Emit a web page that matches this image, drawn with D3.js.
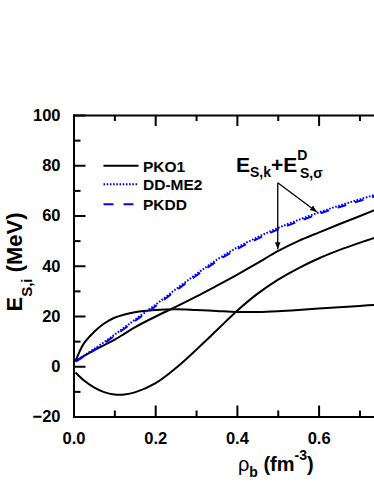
<!DOCTYPE html>
<html>
<head>
<meta charset="utf-8">
<script src="https://cdn.jsdelivr.net/npm/d3@7"></script>
<style>
  body { margin: 0; background: #fff; }
  svg { display: block; font-family: "Liberation Sans", Arial, sans-serif; font-weight: bold; }
</style>
</head>
<body>
<div id="vis"></div>
<script>
// density grid (fm^-3)
const rho = [0.005, 0.025, 0.05, 0.075, 0.1, 0.125, 0.15, 0.2, 0.25, 0.3, 0.35, 0.4, 0.45, 0.5, 0.55, 0.6, 0.65, 0.7, 0.75];

// PKO1 curves (MeV)
const pko1Sum   = [2, 4, 6.3, 8.4, 10.5, 13, 15.5, 19.7, 23.6, 27.7, 32, 36.4, 41, 45.8, 49.8, 53.2, 56.5, 59.7, 63];
const pko1Lower = [-2.5, -5.6, -8.4, -10.3, -11.2, -11.2, -10.4, -6.8, -0.8, 6.5, 14.2, 22, 28.8, 34.4, 39, 42.9, 46.2, 49.1, 51.8];
const pko1Flat  = [2, 9, 13.6, 17, 19.3, 20.6, 21.5, 22.4, 22.7, 22.4, 22, 21.6, 21.6, 21.9, 22.4, 23, 23.5, 24, 24.6];
// DD-ME2 and PKDD (nearly on top of each other)
const ddme2 = [2, 4.2, 6.8, 9.6, 12.5, 15.5, 18.5, 24.4, 30.6, 36.6, 42.3, 47.2, 51.3, 55, 58.2, 61.2, 63.9, 66.4, 68.8];
const pkdd  = [1.8, 3.9, 6.4, 9.2, 12, 15, 18, 23.8, 30, 36, 41.7, 46.6, 50.7, 54.4, 57.6, 60.6, 63.3, 65.8, 68.2];

const xMajor = [0, 0.2, 0.4, 0.6, 0.8, 1.0];
const xMinor = [0.1, 0.3, 0.5, 0.7, 0.9];
const yMajor = [-20, 0, 20, 40, 60, 80, 100];
const yMinor = [-10, 10, 30, 50, 70, 90];

const legendNames = ["PKO1", "DD-ME2", "PKDD"];

const W = 374, H = 484;
const svg = d3.select("#vis").append("svg")
  .attr("width", W)
  .attr("height", H);

const x = d3.scaleLinear().domain([0, 1.0]).range([73.5, 482]);
const y = d3.scaleLinear().domain([-20, 100]).range([416.5, 115]);

svg.append("defs").append("clipPath").attr("id", "plotclip")
  .append("rect")
  .attr("x", x(0)).attr("y", y(100))
  .attr("width", x(1) - x(0)).attr("height", y(-20) - y(100));

// curves
const line = d3.line()
  .x(d => x(d[0]))
  .y(d => y(d[1]))
  .curve(d3.curveCatmullRom.alpha(0.5));

const plot = svg.append("g").attr("clip-path", "url(#plotclip)");

const series = [
  { vals: pko1Flat,  color: "#000", dash: null },
  { vals: pko1Lower, color: "#000", dash: null },
  { vals: pko1Sum,   color: "#000", dash: null },
  { vals: pkdd,      color: "#0000ff", dash: "9,9" },
  { vals: ddme2,     color: "#0000ff", dash: "1.6,1.6" }
];

series.forEach(s => {
  plot.append("path")
    .datum(rho.map((r, i) => [r, s.vals[i]]))
    .attr("d", line)
    .attr("fill", "none")
    .attr("stroke", s.color)
    .attr("stroke-width", 2)
    .attr("stroke-dasharray", s.dash);
});

// axes, ticks pointing inward
function styleAxis(g) {
  g.selectAll("path, line").attr("stroke", "#000").attr("stroke-width", 2);
  g.selectAll("text").attr("fill", "#000").style("font-size", "16.5px").style("font-weight", "bold");
}

// labels only where the page shows them (the frame runs past the right edge)
const xFmt = d => d <= 0.7 ? d3.format(".1f")(d) : "";

svg.append("g")
  .attr("transform", `translate(0,${y(-20)})`)
  .call(d3.axisBottom(x).tickValues(xMajor).tickSize(-11).tickSizeOuter(0).tickPadding(16).tickFormat(xFmt))
  .call(styleAxis);
svg.append("g")
  .attr("transform", `translate(0,${y(-20)})`)
  .call(d3.axisBottom(x).tickValues(xMinor).tickSize(-6).tickFormat(""))
  .call(g => g.select(".domain").remove())
  .call(styleAxis);

svg.append("g")
  .attr("transform", `translate(0,${y(100)})`)
  .call(d3.axisTop(x).tickValues(xMajor).tickSize(-11).tickSizeOuter(0).tickFormat(""))
  .call(styleAxis);
svg.append("g")
  .attr("transform", `translate(0,${y(100)})`)
  .call(d3.axisTop(x).tickValues(xMinor).tickSize(-6).tickFormat(""))
  .call(g => g.select(".domain").remove())
  .call(styleAxis);

svg.append("g")
  .attr("transform", `translate(${x(0)},0)`)
  .call(d3.axisLeft(y).tickValues(yMajor).tickSize(-12).tickSizeOuter(0).tickPadding(13))
  .call(styleAxis);
svg.append("g")
  .attr("transform", `translate(${x(0)},0)`)
  .call(d3.axisLeft(y).tickValues(yMinor).tickSize(-7).tickFormat(""))
  .call(g => g.select(".domain").remove())
  .call(styleAxis);

svg.append("g")
  .attr("transform", `translate(${x(1)},0)`)
  .call(d3.axisRight(y).tickValues(yMajor).tickSize(-12).tickSizeOuter(0).tickFormat(""))
  .call(styleAxis);

// square off the frame corners
svg.selectAll(".domain").attr("stroke-linecap", "square");

// legend
const legend = svg.append("g").attr("transform", "translate(103.5,165.7)");
const legY = [0, 18.6, 38.6];
const legStyles = [
  { color: "#000", dash: null },
  { color: "#0000ff", dash: "1.6,1.6" },
  { color: "#0000ff", dash: "10,10" }
];
legendNames.forEach((name, i) => {
  legend.append("line")
    .attr("x1", 0).attr("x2", 35)
    .attr("y1", legY[i]).attr("y2", legY[i])
    .attr("stroke", legStyles[i].color)
    .attr("stroke-width", 2)
    .attr("stroke-dasharray", legStyles[i].dash);
  legend.append("text")
    .attr("x", 39.5).attr("y", legY[i] + 6.2)
    .style("font-size", "15.5px")
    .text(name);
});

// annotation with arrows
const arrowFrom = [0.5, 73];
const arrowTo = [[0.5, 46.6], [0.596, 61.4]];
svg.append("defs").append("marker")
  .attr("id", "head")
  .attr("viewBox", "0 0 10 10")
  .attr("refX", 10).attr("refY", 5)
  .attr("markerWidth", 7).attr("markerHeight", 7)
  .attr("markerUnits", "userSpaceOnUse")
  .attr("orient", "auto")
  .append("path")
  .attr("d", "M0,1 L10,5 L0,9 Z")
  .attr("fill", "#000");

arrowTo.forEach(t => {
  svg.append("line")
    .attr("x1", x(arrowFrom[0])).attr("y1", y(arrowFrom[1]))
    .attr("x2", x(t[0])).attr("y2", y(t[1]))
    .attr("stroke", "#000")
    .attr("stroke-width", 1.3)
    .attr("marker-end", "url(#head)");
});

const ann = svg.append("text")
  .attr("x", 236).attr("y", 171.7)
  .style("font-size", "21px");
ann.append("tspan").text("E");
ann.append("tspan").attr("dy", 5).style("font-size", "14px").text("S,k");
ann.append("tspan").attr("dy", -5).text("+E");
ann.append("tspan").attr("dy", -12).style("font-size", "14px").text("D");
ann.append("tspan").attr("x", 300).attr("dy", 18.5).style("font-size", "14px").text("S,σ");

// axis titles
const xt = svg.append("text")
  .attr("x", x(0.5) - 2).attr("y", 471)
  .attr("text-anchor", "middle")
  .style("font-size", "20px");
xt.append("tspan").style("font-weight", "normal").text("ρ");
xt.append("tspan").attr("dy", 6).style("font-size", "14px").text("b");
xt.append("tspan").attr("dy", -6).text(" (fm");
xt.append("tspan").attr("dy", -11).style("font-size", "14px").text("-3");
xt.append("tspan").attr("dy", 11).text(")");

const yt = svg.append("text")
  .attr("transform", "translate(22,262) rotate(-90)")
  .attr("text-anchor", "middle")
  .style("font-size", "22px");
yt.append("tspan").text("E");
yt.append("tspan").attr("dy", 10).style("font-size", "15px").text("S,i");
yt.append("tspan").attr("dy", -10).text(" (MeV)");
</script>
</body>
</html>
